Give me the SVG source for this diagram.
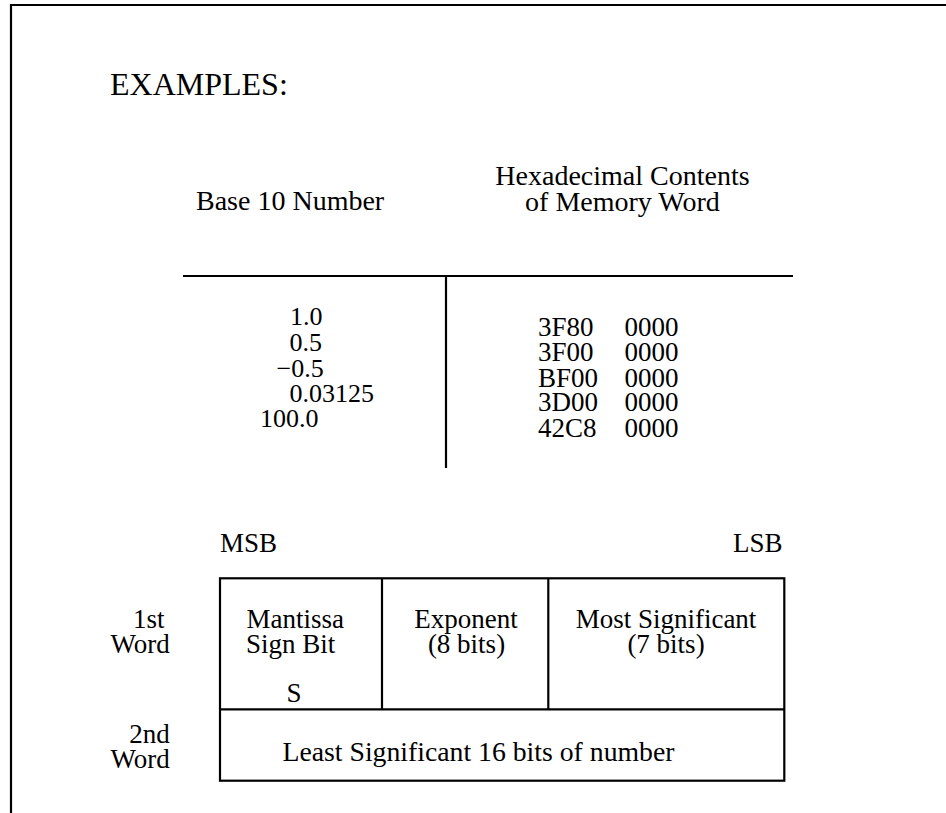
<svg xmlns="http://www.w3.org/2000/svg" width="946" height="813" viewBox="0 0 946 813">
<style>
text{font-family:"Liberation Serif","Times New Roman","DejaVu Serif",serif;fill:#000}
.t{font-size:28px}
.n{font-size:26px}
.h{font-size:27px}
.b{font-size:27px}
.ln{stroke:#000;stroke-width:2.2;fill:none}
.c{text-anchor:middle}
</style>
<rect width="946" height="813" fill="#fff"/>
<g id="frame">
<path class="ln" d="M11,813 V5 H946" stroke-width="2.5"/>
</g>
<g font-family="Liberation Serif, serif">
<g id="title"><text x="110" y="95" style="font-size:32px">EXAMPLES:</text></g>
<g id="table">
<text class="t" x="196" y="210">Base 10 Number</text>
<text class="t c" x="622.5" y="185">Hexadecimal Contents</text>
<text class="t c" x="622.5" y="210.7">of Memory Word</text>
<g id="connectors">
<line class="ln" x1="183" y1="276" x2="793" y2="276"/>
<line class="ln" x1="446" y1="276" x2="446" y2="468"/>
</g>
<g id="base10">
<text class="n" x="290" y="325">1.0</text>
<text class="n" x="289.5" y="351">0.5</text>
<text class="n" x="276.5" y="376.7">−0.5</text>
<text class="n" x="289.5" y="401.7">0.03125</text>
<text class="n" x="260" y="427.3">100.0</text>
</g>
<g id="hex">
<text class="h" x="538" y="335.7">3F80</text>
<text class="h" x="538" y="360.7">3F00</text>
<text class="h" x="538" y="386.7">BF00</text>
<text class="h" x="538" y="410.7">3D00</text>
<text class="h" x="538" y="436.7">42C8</text>
<text class="h" x="624.5" y="335.7">0000</text>
<text class="h" x="624.5" y="360.7">0000</text>
<text class="h" x="624.5" y="386.7">0000</text>
<text class="h" x="624.5" y="410.7">0000</text>
<text class="h" x="624.5" y="436.7">0000</text>
</g>
</g>
<g id="format">
<text class="b" x="220" y="552">MSB</text>
<text class="b" x="733" y="552">LSB</text>
<text class="b" x="133" y="628">1st</text>
<text class="b" x="110.5" y="653">Word</text>
<text class="b" x="129.3" y="743">2nd</text>
<text class="b" x="110.5" y="768">Word</text>
<g id="box">
<rect class="ln" x="220" y="578.3" width="564.3" height="202.4"/>
<line class="ln" x1="220" y1="709.3" x2="784.3" y2="709.3"/>
<line class="ln" x1="382" y1="578.3" x2="382" y2="709.3"/>
<line class="ln" x1="548.3" y1="578.3" x2="548.3" y2="709.3"/>
</g>
<g id="sign">
<text class="b" x="246.5" y="628">Mantissa</text>
<text class="b" x="246" y="653">Sign Bit</text>
<text class="b" x="286.5" y="701.7">S</text>
</g>
<g id="exponent">
<text class="b c" x="466" y="628">Exponent</text>
<text class="b c" x="466.5" y="653">(8 bits)</text>
</g>
<g id="most">
<text class="b c" x="666" y="628">Most Significant</text>
<text class="b c" x="666" y="653">(7 bits)</text>
</g>
<g id="least">
<text class="b" x="282.5" y="760.7" textLength="392" lengthAdjust="spacingAndGlyphs">Least Significant 16 bits of number</text>
</g>
</g>
</g>
</svg>
